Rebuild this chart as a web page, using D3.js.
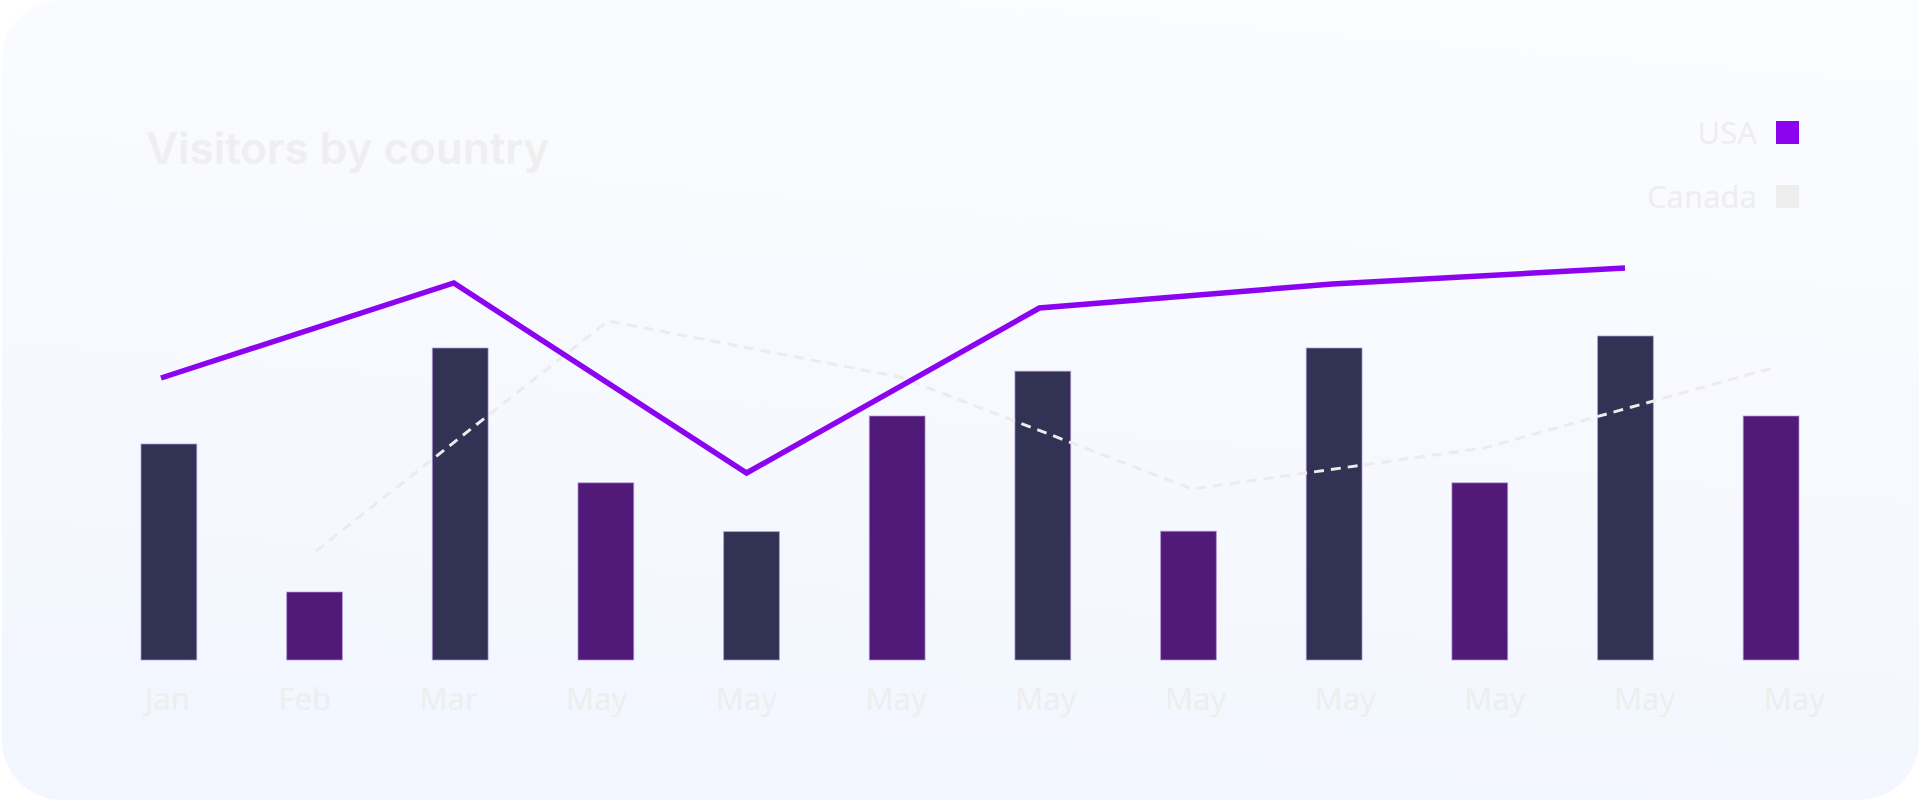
<!DOCTYPE html>
<html>
<head>
<meta charset="utf-8">
<script src="https://cdn.jsdelivr.net/npm/d3@7"></script>
<style>
  html, body { margin: 0; padding: 0; background: #ffffff; }
  svg { display: block; }
</style>
</head>
<body>
<div id="chart"></div>
<script>
// data
var months = ["Jan", "Feb", "Mar", "May", "May", "May", "May", "May", "May", "May", "May", "May"];
var barValues = [54, 17, 78, 44.3, 32.1, 61, 72.2, 32.2, 78, 44.3, 81, 61];
var usaValues = [70.5, 94.25, 46.75, 88, 94, 98];
var canadaValues = [27.25, 84.75, 70.75, 42.75, 53, 73.25];
var legendNames = ["USA", "Canada"];

var svgWidth = 1919;
var svgHeight = 802;

var barColors = ["#323255", "#521a78"];
var usaColor = "#8c04ef";
var canadaColor = "#eeecea";
var textColor = "#eeeeee";

var svg = d3.select("#chart")
    .append("svg")
    .attr("width", svgWidth)
    .attr("height", svgHeight);

// card background (top right corner runs off the page)
var defs = svg.append("defs");
var grad = defs.append("linearGradient")
    .attr("id", "cardGrad")
    .attr("x1", "0.6").attr("y1", "0")
    .attr("x2", "0.4").attr("y2", "1");
grad.append("stop").attr("offset", "0%").attr("stop-color", "#fbfcfe");
grad.append("stop").attr("offset", "100%").attr("stop-color", "#f2f6fe");

var r = 60, cl = 2, cr = svgWidth, ct = 0, cb = 800;
var card = d3.path();
card.moveTo(cl + r, ct);
card.lineTo(cr, ct);
card.lineTo(cr, cb - r);
card.arcTo(cr, cb, cr - r, cb, r);
card.lineTo(cl + r, cb);
card.arcTo(cl, cb, cl, cb - r, r);
card.lineTo(cl, ct + r);
card.arcTo(cl, ct, cl + r, ct, r);
card.closePath();

svg.append("path")
    .attr("d", card.toString())
    .attr("fill", "url(#cardGrad)");

// title
svg.append("text")
    .attr("x", 146)
    .attr("y", 164)
    .attr("font-family", "Inter, Roboto, sans-serif")
    .attr("font-weight", 600)
    .attr("font-size", 44)
    .attr("fill", "#efefef")
    .text("Visitors by country");

// scales
var xBand = d3.scaleBand()
    .domain(d3.range(months.length))
    .range([141, 1799])
    .paddingInner(0.617)
    .paddingOuter(0);

var yScale = d3.scaleLinear()
    .domain([0, 100])
    .range([660, 260]);

var xUsa = d3.scaleLinear()
    .domain([0, usaValues.length - 1])
    .range([161, 1625]);

var xCanada = d3.scaleLinear()
    .domain([0, canadaValues.length - 1])
    .range([316, 1776]);

// bars
svg.append("g")
    .selectAll("rect")
    .data(barValues)
    .enter()
    .append("rect")
    .attr("x", (d, i) => xBand(i))
    .attr("y", d => yScale(d))
    .attr("width", xBand.bandwidth())
    .attr("height", d => yScale(0) - yScale(d))
    .attr("fill", (d, i) => barColors[i % 2])
    .attr("stroke", "#b596e0")
    .attr("stroke-opacity", 0.7)
    .attr("stroke-width", 1);

// lines
var usaLine = d3.line()
    .x((d, i) => xUsa(i))
    .y(d => yScale(d));

var canadaLine = d3.line()
    .x((d, i) => xCanada(i))
    .y(d => yScale(d));

svg.append("path")
    .datum(canadaValues)
    .attr("d", canadaLine)
    .attr("fill", "none")
    .attr("stroke", canadaColor)
    .attr("stroke-width", 3)
    .attr("stroke-dasharray", "10 7");

svg.append("path")
    .datum(usaValues)
    .attr("d", usaLine)
    .attr("fill", "none")
    .attr("stroke", usaColor)
    .attr("stroke-width", 5.5);

// month labels, spread edge to edge like flex space-between
var labelLeft = 145;
var labelRight = 1825;
var labels = svg.append("g")
    .selectAll("text")
    .data(months)
    .enter()
    .append("text")
    .attr("y", 710)
    .attr("font-family", "'Noto Sans', sans-serif")
    .attr("font-size", 31)
    .attr("fill", textColor)
    .text(d => d);

var widths = [];
labels.each(function () { widths.push(this.getComputedTextLength()); });
var gap = (labelRight - labelLeft - d3.sum(widths)) / (months.length - 1);
var pos = labelLeft;
labels.attr("x", function (d, i) {
    var x = pos;
    pos += widths[i] + gap;
    return x;
});

// legend
var legend = svg.append("g")
    .selectAll("g")
    .data(legendNames)
    .enter()
    .append("g")
    .attr("transform", (d, i) => `translate(0, ${144 + i * 64})`);

legend.append("text")
    .attr("x", 1757)
    .attr("y", 0)
    .attr("text-anchor", "end")
    .attr("font-family", "'Noto Sans', sans-serif")
    .attr("font-size", 31)
    .attr("fill", textColor)
    .text(d => d);

legend.append("rect")
    .attr("x", 1776)
    .attr("y", -23)
    .attr("width", 23)
    .attr("height", 23)
    .attr("fill", (d, i) => i === 0 ? usaColor : "#eeeeee");
</script>
</body>
</html>
